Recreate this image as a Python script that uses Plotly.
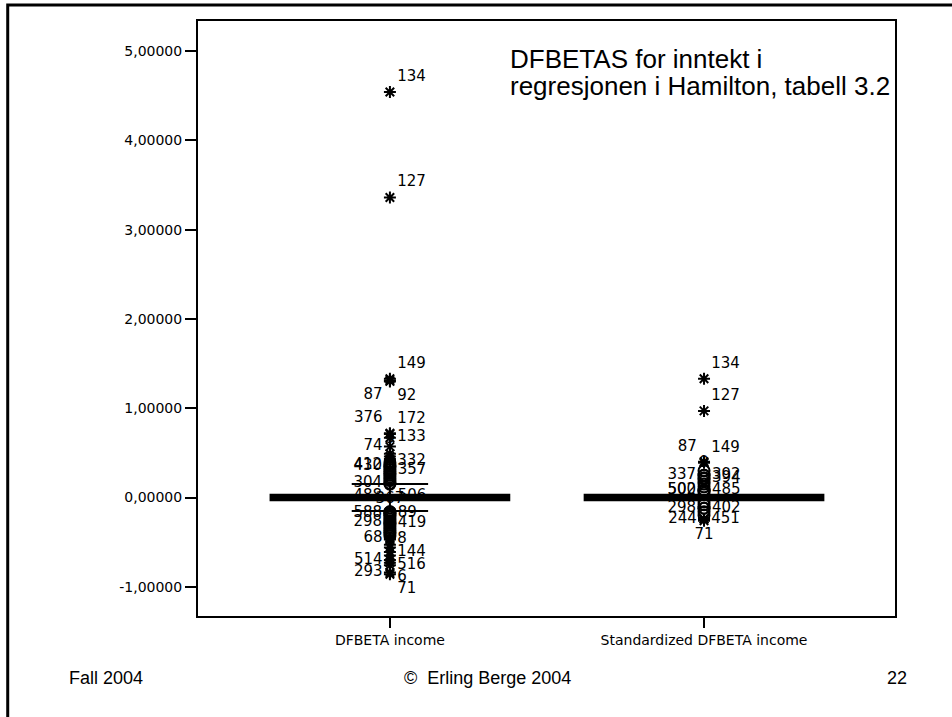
import plotly.graph_objects as go

# ---- data -----------------------------------------------------------------
categories = ["DFBETA income", "Standardized DFBETA income"]
cat_pos = [1, 2]
y_ticks = [-1, 0, 1, 2, 3, 4, 5]
y_ticktext = [f"{v:.5f}".replace(".", ",") for v in y_ticks]

# box summaries (quartiles, median, whisker ends)
q1 = [-0.03, -0.03]
median = [0.0, 0.0]
q3 = [0.03, 0.03]
lower_fence = [-0.15, -0.03]
upper_fence = [0.15, 0.03]

# DFBETA income: outlying cases (value, case id, symbol kind, label placement)
dfb_values = [4.54, 3.36, 1.33, 1.31, 1.30, 0.72, 0.71, 0.67, 0.57, 0.49,
              0.46, 0.43, 0.41, 0.39, 0.36, 0.35, 0.33, 0.31, 0.29, 0.27,
              0.25, 0.23, 0.21, 0.19, 0.16, 0.15,
              -0.16, -0.16, -0.18, -0.18, -0.20, -0.22, -0.24, -0.26, -0.28, -0.29,
              -0.31, -0.33, -0.35, -0.37, -0.39, -0.41, -0.43, -0.46, -0.47, -0.53,
              -0.56, -0.61, -0.65, -0.70, -0.73, -0.76, -0.84, -0.86]
dfb_cases = ["134", "127", "149", "87", "92", "376", "172", "133", "74", "9",
             "", "", "332", "", "412", "430", "", "357", "", "",
             "", "", "", "", "304", "367",
             "488", "506", "588", "89", "", "", "", "", "298", "419",
             "", "", "", "", "", "", "", "68", "8", "",
             "", "144", "", "514", "6", "516", "293", "71"]
dfb_kind = ["*", "*", "*", "*", "*", "*", "*", "*", "*", "*",
            "*", "*", "*", "o", "o", "o", "o", "o", "o", "o",
            "o", "o", "o", "o", "o", "o",
            "o", "o", "o", "o", "o", "o", "o", "o", "o", "o",
            "o", "o", "o", "o", "o", "o", "o", "*", "*", "*",
            "*", "*", "*", "*", "*", "*", "*", "*"]
dfb_labelpos = ["top right", "top right", "top right", "bottom left", "bottom right",
                "top left", "top right", "middle right", "middle left", "top center",
                "middle right", "middle right", "middle right", "middle right", "middle left",
                "middle left", "middle right", "middle right", "middle right", "middle right",
                "middle right", "middle right", "middle right", "middle right", "middle left",
                "bottom center",
                "top left", "top right", "middle left", "middle right", "middle right",
                "middle right", "middle right", "middle right", "middle left", "middle right",
                "middle right", "middle right", "middle right", "middle right", "middle right",
                "middle right", "middle right", "middle left", "middle right", "middle right",
                "middle right", "middle right", "middle right", "middle left", "bottom right",
                "middle right", "middle left", "bottom right"]

# Standardized DFBETA income: outlying cases
std_values = [1.33, 0.97, 0.40, 0.39, 0.30, 0.25, 0.25, 0.22, 0.21, 0.18,
              0.15, 0.12, 0.08, 0.08, 0.08, 0.05, -0.05, -0.08, -0.12, -0.12,
              -0.16, -0.20, -0.24, -0.24, -0.26]
std_cases = ["134", "127", "87", "149", "", "337", "392", "394", "9", "",
             "", "", "500", "502", "485", "", "", "", "298", "402",
             "", "", "244", "451", "71"]
std_kind = ["*", "*", "*", "*", "o", "o", "o", "o", "o", "o",
            "o", "o", "o", "o", "o", "o", "o", "o", "o", "o",
            "o", "o", "*", "*", "*"]
std_labelpos = ["top right", "top right", "top left", "top right", "middle right",
                "middle left", "middle right", "middle right", "top center", "middle right",
                "middle right", "middle right", "middle left", "middle left", "middle right",
                "middle right", "middle right", "middle right", "middle left", "middle right",
                "middle right", "middle right", "middle left", "middle right", "bottom center"]

# ---- figure ---------------------------------------------------------------
SLIDE_FONT = "Liberation Sans, Arial, sans-serif"
CHART_FONT = "DejaVu Sans, Liberation Sans, sans-serif"

fig = go.Figure()


def add_points(xpos, values, cases, kinds, labelpos):
    for kind, symbol in (("o", "circle-open"), ("*", "asterisk-open")):
        idx = [i for i, k in enumerate(kinds) if k == kind]
        if not idx:
            continue
        fig.add_trace(go.Scatter(
            x=[xpos] * len(idx),
            y=[values[i] for i in idx],
            text=[cases[i] for i in idx],
            textposition=[labelpos[i] for i in idx],
            mode="markers+text",
            marker=dict(symbol=symbol, size=10 if kind == "*" else 11,
                        color="black", line=dict(color="black", width=2)),
            textfont=dict(family=CHART_FONT, size=15, color="black"),
            showlegend=False,
            hoverinfo="skip",
            cliponaxis=False,
        ))


add_points(cat_pos[0], dfb_values, dfb_cases, dfb_kind, dfb_labelpos)
add_points(cat_pos[1], std_values, std_cases, std_kind, std_labelpos)

for i, name in enumerate(categories):
    fig.add_trace(go.Box(
        x=[cat_pos[i]],
        q1=[q1[i]], median=[median[i]], q3=[q3[i]],
        lowerfence=[lower_fence[i]], upperfence=[upper_fence[i]],
        boxpoints=False,
        width=0.76,
        whiskerwidth=0.32,
        fillcolor="black",
        line=dict(color="black", width=2),
        name=name,
        showlegend=False,
        hoverinfo="skip",
    ))

fig.update_layout(
    width=952, height=717,
    margin=dict(l=198, r=57, t=21, b=101),
    paper_bgcolor="white", plot_bgcolor="white",
    font=dict(family=CHART_FONT, color="black"),
    showlegend=False,
)

fig.update_xaxes(
    range=[0.389, 2.608],
    tickvals=cat_pos, ticktext=categories,
    ticks="outside", ticklen=10, tickwidth=2, tickcolor="black",
    tickfont=dict(family=CHART_FONT, size=14, color="black"),
    showline=True, linecolor="black", linewidth=2, mirror=True,
    showgrid=False, zeroline=False,
)
fig.update_yaxes(
    range=[-1.327, 5.336],
    tickvals=y_ticks, ticktext=y_ticktext,
    ticks="outside", ticklen=11, tickwidth=2, tickcolor="black",
    tickfont=dict(family=CHART_FONT, size=14, color="black"),
    showline=True, linecolor="black", linewidth=2, mirror=True,
    showgrid=False, zeroline=False,
)

# slide frame
fig.add_shape(type="rect", xref="paper", yref="paper",
              x0=-0.273, x1=1.3, y0=-0.4, y1=1.027,
              line=dict(color="black", width=3), fillcolor="rgba(0,0,0,0)",
              layer="above")

# chart caption inside the plot area, one annotation per line
caption = ["DFBETAS for inntekt i", "regresjonen i Hamilton, tabell 3.2"]
for k, line in enumerate(caption):
    fig.add_annotation(
        xref="paper", yref="paper", x=(508 - 198) / 697,
        y=(616 - (59 + 27 * k)) / 595,
        xanchor="left", yanchor="middle", align="left", showarrow=False,
        text=line,
        font=dict(family=SLIDE_FONT, size=26, color="black"),
    )

# slide footer
footer = [("Fall 2004", 67, "left"), ("©  Erling Berge 2004", 487, "center"),
          ("22", 909, "right")]
for txt, px, anchor in footer:
    fig.add_annotation(
        xref="paper", yref="paper", x=(px - 198) / 697, y=(616 - 678) / 595,
        xanchor=anchor, yanchor="middle", showarrow=False, text=txt,
        font=dict(family=SLIDE_FONT, size=18, color="black"),
    )

fig.write_html("out.html")
